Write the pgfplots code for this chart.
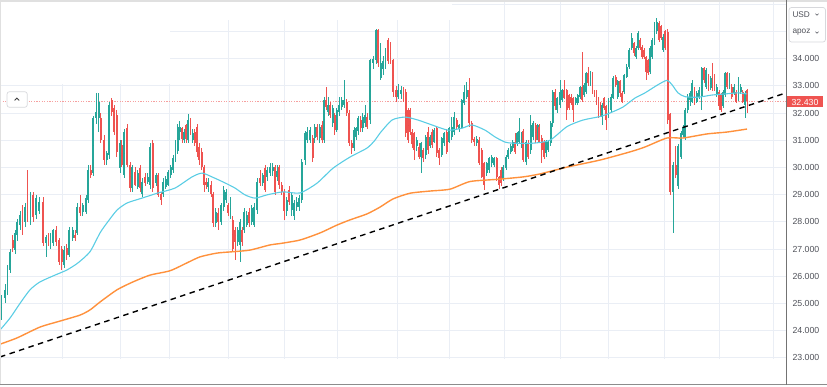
\documentclass[border=0pt]{standalone}
\usepackage{fontspec}
\setmainfont{Liberation Sans}
\usepackage{pgfplots}
\usepackage{pgfplotstable}
\pgfplotsset{compat=1.18}
\definecolor{upc}{RGB}{38,166,154}
\definecolor{dnc}{RGB}{239,83,80}
\definecolor{gridc}{RGB}{234,238,245}
\definecolor{ma1}{RGB}{90,205,228}
\definecolor{ma2}{RGB}{255,145,60}
\definecolor{lblc}{RGB}{80,82,90}
\definecolor{bordc}{RGB}{215,216,220}

\pgfplotstableread{
x o h l c
1.5 24.6 25.3 24.4 25.1
5 25.2 25.7 25.0 25.5
7.5 25.43 26.4 25.3 26.29
10 26.23 27.0 26.1 26.9
12.7 27.33 27.5 26.9 27.03
15 26.96 27.7 26.8 27.58
17.3 27.5 28.1 27.3 28.0
20 27.9 28.4 27.7 28.25
22.5 28.3 28.6 27.5 27.76
25 28.0 28.7 27.8 28.56
27.5 28.5 29.9 28.0 28.2
30.5 28.13 29.1 27.9 28.92
33 29.0 29.1 28.0 28.19
36 28.25 29.0 28.1 28.86
39 28.4 28.9 28.3 28.74
43 28.74 28.9 27.1 27.21
46 27.21 27.5 26.72 27.45
48.5 27.45 27.6 27.1 27.27
50.5 27.15 27.6 27.0 27.45
53 27.21 27.75 27.1 27.7
56 27.7 27.85 27.1 27.27
59 27.33 27.4 26.4 26.53
61.7 27.0 27.1 26.23 26.53
64.3 26.41 27.1 26.3 26.96
66.7 27.03 27.2 26.6 26.78
69.3 26.78 27.8 26.7 27.7
72.7 27.4 27.8 27.3 27.7
75 27.51 27.7 27.3 27.39
77.3 27.58 28.7 27.5 28.56
80 28.56 28.99 28.2 28.31
82.7 28.37 28.7 28.2 28.62
86 28.37 29.0 28.3 28.86
88.3 28.8 30.1 28.7 29.9
90.7 29.9 30.09 29.6 29.72
93.3 29.78 31.9 29.7 31.8
96 31.8 32.72 31.6 32.05
98.7 31.8 32.72 31.31 32.42
100.7 31.8 32.0 30.9 31.01
104 31.01 31.2 30.1 30.27
106.7 30.27 30.6 30.1 30.52
109.3 30.46 32.4 30.3 32.3
111.7 32.48 32.55 31.9 32.05
114.3 32.17 32.3 31.2 31.31
116.7 31.93 32.1 30.4 30.58
120 29.97 31.0 29.8 30.89
121.7 30.82 31.0 30.0 30.09
124.3 29.72 31.4 29.6 31.3
127.3 31.44 31.6 30.0 30.09
130 30.09 30.2 29.1 29.25
132.3 29.23 30.1 29.1 30.02
135 29.84 30.0 29.3 29.35
137.7 29.29 29.9 29.2 29.78
140.3 29.96 30.1 29.1 29.23
142.3 29.04 29.6 28.9 29.47
145 29.66 29.8 29.3 29.41
147.7 29.47 29.8 29.4 29.66
150 29.35 30.9 29.2 30.76
152.7 30.88 31.0 29.1 29.23
156 29.41 29.8 29.3 29.72
158.3 29.72 29.8 28.9 28.98
161 29.04 29.1 28.62 28.8
163.3 29.04 29.6 28.9 29.47
165.7 29.29 29.7 29.2 29.59
168.3 29.35 29.9 29.3 29.84
170.7 29.72 30.1 29.6 30.02
173.3 29.9 30.45 29.8 30.33
175.5 30.33 31.0 30.2 30.9
177.7 30.6 31.6 30.5 31.5
179.7 31.3 31.7 31.0 31.49
182 31.43 31.5 30.9 31.06
184 31.0 31.4 30.9 31.31
186 31.55 31.6 30.9 31.06
188.3 31.0 31.98 30.9 31.74
190.5 31.68 31.8 31.2 31.31
192.7 31.0 31.4 30.9 31.25
194.7 31.31 31.4 30.8 30.88
197 31.49 31.6 30.4 30.57
199.3 30.76 30.9 30.1 30.27
201.7 30.57 30.7 29.9 30.02
204 30.02 30.1 29.1 29.35
206.3 29.47 29.6 29.2 29.35
208.3 29.29 29.6 29.1 29.47
211 29.35 29.5 28.9 29.04
213.3 29.04 29.1 27.8 27.94
215.7 27.94 28.5 27.8 28.37
218.3 28.31 28.5 27.7 28.0
221 28.0 28.7 27.9 28.62
223.7 28.55 29.3 28.4 29.17
226 28.8 29.2 28.7 29.1
228.3 28.62 28.7 28.2 28.31
230.5 28.25 28.9 28.1 28.74
232.7 28.06 28.2 26.9 27.0
235 27.7 27.8 26.6 27.27
237.7 27.27 27.8 27.1 27.7
240 27.14 28.1 26.53 28.0
242 27.7 27.8 27.1 27.27
244.3 27.7 28.5 27.6 28.37
246.7 27.9 28.4 27.8 28.25
249 28.37 28.5 27.8 27.94
251.7 28.0 28.6 27.9 28.49
254.3 27.9 28.7 27.8 28.55
257.3 28.44 29.6 28.3 29.48
260 29.6 29.9 29.3 29.42
262.7 29.42 29.8 29.3 29.72
265 29.97 30.1 29.1 29.17
267.3 29.66 30.0 29.5 29.9
270 29.78 30.15 29.7 30.03
272.7 29.85 30.15 29.7 30.03
275 30.03 30.1 29.0 29.11
277.3 29.66 30.09 29.5 29.85
279.3 30.03 30.1 29.2 29.36
281.7 29.36 29.45 29.0 29.11
284.3 29.11 29.2 28.07 28.38
286.7 28.38 28.9 28.2 28.8
289.3 29.17 29.3 28.6 28.74
291.7 28.44 29.1 28.2 28.99
294 28.2 28.8 28.07 28.68
296.7 28.56 28.9 28.4 28.74
299 28.56 29.0 28.4 28.86
301.7 28.8 30.3 28.7 30.21
305 30.27 31.35 30.1 31.25
307.3 31.0 31.5 30.9 31.31
310 31.0 31.5 30.9 31.38
312.7 31.07 31.2 30.2 30.33
314.7 31.07 31.6 30.9 31.5
317.3 31.5 31.6 31.0 31.13
319.7 31.07 31.6 30.9 31.5
322 31.56 31.7 30.9 31.0
324.3 31.01 32.6 30.9 32.48
326.3 32.48 32.97 32.1 32.23
328.3 32.05 32.6 31.9 32.3
330.3 32.3 32.4 31.8 31.93
332.7 31.62 32.3 31.5 32.17
334.7 31.93 32.0 31.2 31.38
336.7 31.38 32.2 31.3 32.11
339.3 32.05 32.6 31.9 32.3
341.7 32.23 32.6 32.1 32.48
344 32.3 33.2 32.2 32.48
346.7 32.42 32.5 31.9 31.99
349.3 31.99 32.1 30.8 30.88
351.7 30.88 31.0 30.5 30.7
354 30.7 31.5 30.6 31.38
356.3 31.13 31.5 31.0 31.44
358.3 31.32 31.9 31.2 31.8
360.7 31.74 31.9 31.3 31.44
362.7 31.44 32.0 31.3 31.87
365 31.62 32.3 31.5 31.93
367.3 31.87 32.0 31.4 31.5
370 31.74 34.0 31.6 33.95
373 33.85 34.1 33.6 34.0
376 33.94 35.07 33.8 35.05
378.3 35.05 35.1 33.7 33.82
380.7 33.3 34.56 33.2 33.85
383 33.6 34.1 33.4 33.9
385.5 33.7 34.4 33.6 34.3
388 34.68 34.75 33.8 33.9
390.5 34.5 34.6 33.8 33.9
393.3 33.94 34.0 32.6 32.78
396 32.85 33.0 32.4 32.6
398.3 32.6 33.08 32.5 32.84
401 32.7 33.0 32.5 32.85
403.5 32.84 32.95 32.4 32.5
405.7 32.79 32.9 31.1 31.25
408 32.1 32.2 30.9 31.0
410 32.11 32.2 31.2 31.3
412.3 31.3 31.4 30.7 30.85
414.3 31.25 31.3 30.27 30.64
416.7 30.8 31.1 30.6 31.0
419 30.76 30.9 30.3 30.39
421 30.39 30.95 29.78 30.88
423.3 30.64 30.7 30.2 30.34
425.7 30.45 31.2 30.3 31.13
428.3 31.3 31.5 30.5 30.64
430 30.77 31.2 30.7 31.13
432.3 31.3 31.4 30.7 30.82
434.3 30.95 31.45 30.9 31.37
436.7 31.44 31.5 30.4 30.52
439 30.64 30.7 30.1 30.34
441.7 30.45 31.1 30.4 31.08
444.3 30.88 31.3 30.8 31.25
446.7 31.3 31.4 30.5 30.58
449 30.95 31.5 30.9 31.44
451.7 31.13 31.86 31.0 31.5
454 31.3 32.05 31.2 31.86
456.7 31.74 31.8 31.4 31.5
459 31.4 31.6 31.3 31.55
461.7 31.44 32.5 31.4 32.48
464 32.35 33.03 32.3 32.79
466.7 32.6 33.15 32.5 32.84
469 32.84 33.27 31.5 31.62
471.7 31.62 31.7 30.9 31.0
474.3 31.06 31.1 30.8 30.94
476.7 30.88 31.15 30.8 31.06
479 31.0 31.1 30.1 30.15
481.7 30.64 30.7 29.6 29.66
484 30.15 30.2 29.17 29.35
486.7 29.78 30.2 29.7 30.15
489 29.9 30.4 29.8 30.33
491.7 30.15 30.45 30.0 30.4
494 30.1 30.4 30.0 30.33
496.7 30.33 30.4 29.5 29.66
499 29.66 29.7 29.2 29.35
501.3 29.9 30.0 29.3 29.41
503.3 29.6 30.1 29.5 30.03
506 29.97 30.45 29.9 30.4
508.3 30.4 30.7 30.3 30.64
510.7 30.55 30.85 30.5 30.77
512.7 30.7 31.0 30.6 30.95
515 30.95 31.25 30.5 30.58
517 30.89 31.3 30.8 31.26
519.3 30.95 31.8 30.9 31.32
521.7 30.77 31.3 30.7 31.26
523.3 31.32 31.4 30.2 30.28
526 30.2 31.0 30.1 30.95
528.3 30.89 31.0 30.3 30.4
530.7 30.64 31.93 30.5 31.56
533.3 31.13 31.7 31.0 31.62
535.7 31.56 31.65 30.9 31.0
537.7 31.07 31.6 31.0 31.56
539.3 31.5 31.6 30.9 30.95
541.7 31.07 31.2 30.15 30.64
544 30.95 31.0 30.3 30.4
546 30.52 31.0 30.4 30.95
548.3 30.64 31.0 30.55 30.95
550.7 30.89 31.7 30.8 31.62
552.7 31.62 32.85 31.5 32.79
555 32.79 32.9 32.1 32.24
557.3 32.11 32.6 32.0 32.54
560 32.3 33.22 32.2 32.79
562.3 32.48 32.9 32.4 32.85
564.3 32.85 33.22 32.5 32.54
566.7 32.85 32.9 31.75 32.11
569 32.66 32.7 32.1 32.18
571 32.6 32.7 32.3 32.36
573.3 32.54 32.6 31.68 32.11
575.7 32.36 32.6 32.3 32.54
577.7 32.36 32.7 32.3 32.66
580 32.6 33.0 32.5 32.97
582.3 32.97 34.26 32.4 32.48
584.3 32.66 33.1 32.6 33.03
586.3 32.79 33.5 32.7 33.46
588.3 33.46 33.7 33.0 33.1
590.5 33.1 33.55 33.0 33.46
592.5 33.46 33.5 32.7 32.79
594.5 32.79 32.85 32.6 32.67
596.5 32.79 32.85 32.3 32.42
598.5 32.54 32.6 31.8 31.87
600.5 32.36 32.4 31.9 31.99
602.3 31.87 32.35 31.56 32.3
604.3 32.54 32.6 32.1 32.18
606.3 32.24 32.3 31.38 31.75
608.5 31.87 32.55 31.8 32.48
611 32.11 32.7 32.0 32.6
613.3 32.54 33.35 32.5 33.28
615.7 33.34 33.4 32.95 33.03
617.7 32.6 33.2 32.5 33.16
620 33.16 33.2 32.6 32.73
622.3 32.73 32.8 32.35 32.42
624.3 32.79 33.45 32.7 33.4
626.7 33.34 33.8 33.3 33.7
629 33.7 34.4 33.6 34.32
631.7 34.38 34.93 34.3 34.75
634 34.56 34.6 34.1 34.2
636 34.07 34.45 34.0 34.38
638 34.38 35.0 34.3 34.93
640 34.69 34.75 34.3 34.38
642 34.44 34.5 34.0 34.07
644 34.32 34.4 34.0 34.07
646 34.07 34.1 33.22 33.52
648 33.95 34.0 33.4 33.46
650.3 33.52 34.45 33.45 34.38
652.3 34.07 34.75 34.0 34.69
654.5 34.56 35.35 34.5 35.3
656.7 35.0 35.5 34.9 35.36
659 35.3 35.4 34.6 34.69
661 35.18 35.25 34.7 34.75
663.3 34.32 34.9 34.25 34.81
665.3 35.0 35.05 34.3 34.38
667.7 34.99 35.1 31.6 31.75
670 31.95 32.0 29.0 29.1
673.3 29.1 30.2 27.58 30.1
675.7 30.1 30.77 29.6 29.72
678.3 29.3 30.85 29.2 30.77
681 30.4 31.35 30.3 31.26
683 31.2 31.55 31.1 31.5
685.3 31.13 32.2 31.0 32.11
687.7 32.11 32.7 32.0 32.6
690 32.48 32.8 32.24 32.73
692.3 32.42 33.2 32.35 33.1
694.5 32.85 32.95 32.3 32.36
696.7 32.42 32.8 32.35 32.73
699 32.6 32.95 32.5 32.85
701.7 32.6 33.7 32.11 33.65
704 33.65 33.7 33.1 33.22
706.3 32.97 33.65 32.9 33.58
708.5 33.4 33.45 32.8 32.85
710.7 32.91 33.35 32.85 33.28
712.5 33.2 33.83 32.8 32.85
714.5 33.4 33.45 32.8 32.85
716.7 32.67 33.05 32.6 32.97
719 32.79 32.85 32.11 32.24
721 32.67 32.75 32.05 32.11
723 32.24 32.85 32.2 32.79
725.2 32.67 33.5 32.6 33.46
727.3 33.46 33.5 32.9 32.97
729.5 32.97 33.46 32.9 33.34
731.7 32.97 33.05 32.5 32.6
734 32.73 33.05 32.65 32.97
736.2 32.79 32.85 32.35 32.42
738.5 32.54 33.34 32.45 33.16
740.7 32.79 33.05 32.7 32.97
742.8 32.79 32.85 32.35 32.42
745 32.3 32.8 31.8 32.73
747.3 32.85 32.9 32.0 32.43
}\candles

\pgfplotsset{candle/.style={only marks, mark=*, mark size=0pt,
  mark options={draw=none, fill=none},
  error bars/.cd, y dir=both, y explicit, error mark=none}}

\begin{document}
\begin{tikzpicture}
\useasboundingbox (0,0) rectangle (827bp,387bp);
\begin{axis}[
  at={(0,2bp)}, anchor=south west,
  scale only axis, width=786bp, height=385bp,
  xmin=0, xmax=786, ymin=22.0, ymax=36.154,
  axis line style={draw=none},
  xtick={62,120,169,228,284,337,397,449,504,560,608,664,719,773},
  xticklabels={},
  ytick={23,24,25,26,27,28,29,30,31,32,33,34,35,36},
  yticklabels={23.000,24.000,25.000,26.000,27.000,28.000,29.000,30.000,31.000,32.000,33.000,34.000,{},{}},
  yticklabel pos=right,
  grid=major,
  major grid style={draw=gridc, line width=0.9bp},
  major tick length=0pt,
  yticklabel style={font=\fontsize{8.8}{10}\selectfont, text=lblc, anchor=west, xshift=3bp},
  clip=true,
]
% areas without grid
\fill[white] (axis cs:0,33.05) rectangle (axis cs:170,36.2);
\fill[white] (axis cs:170,35.42) rectangle (axis cs:452,36.2);
\fill[white] (axis cs:0,21.9) rectangle (axis cs:786,22.94);

% last price line
\addplot[dnc!55, line width=0.7bp, dash pattern=on 1.3bp off 1.3bp] coordinates {(0,32.43) (786,32.43)};

% wicks
\addplot[candle, error bar style={line width=0.8bp, draw=upc, solid}]
  table[x=x, y expr=(\thisrow{h}+\thisrow{l})/2, y error expr=(\thisrow{h}-\thisrow{l})/2,
        restrict expr to domain={\thisrow{c}-\thisrow{o}}{0:100}] {\candles};
\addplot[candle, error bar style={line width=0.8bp, draw=dnc, solid}]
  table[x=x, y expr=(\thisrow{h}+\thisrow{l})/2, y error expr=(\thisrow{h}-\thisrow{l})/2,
        restrict expr to domain={\thisrow{c}-\thisrow{o}}{-100:-0.00001}] {\candles};
% bodies
\addplot[candle, error bar style={line width=1.9bp, draw=upc, solid}]
  table[x=x, y expr=(\thisrow{o}+\thisrow{c})/2, y error expr=abs(\thisrow{c}-\thisrow{o})/2,
        restrict expr to domain={\thisrow{c}-\thisrow{o}}{0:100}] {\candles};
\addplot[candle, error bar style={line width=1.9bp, draw=dnc, solid}]
  table[x=x, y expr=(\thisrow{o}+\thisrow{c})/2, y error expr=abs(\thisrow{c}-\thisrow{o})/2,
        restrict expr to domain={\thisrow{c}-\thisrow{o}}{-100:-0.00001}] {\candles};

% moving averages
\addplot[ma1, line width=1.1bp, smooth, tension=0.4] coordinates {
(0,24.02)(10,24.46)(20,25.0)(30,25.5)(40,25.79)(55,26.04)(67,26.23)(78,26.49)(90,26.9)(100,27.59)(107,27.96)(117,28.43)(127,28.69)(142,28.87)(158,29.06)(175,29.24)(192,29.65)(202,29.79)(212,29.65)(225,29.43)(235,29.24)(245,28.99)(255,28.87)(267,28.99)(283,29.1)(300,29.06)(317,29.42)(333,29.97)(350,30.38)(367,30.71)(375,31.0)(380,31.26)(392,31.74)(405,31.85)(418,31.74)(432,31.56)(448,31.37)(462,31.44)(472,31.56)(485,31.37)(495,31.12)(505,30.93)(513,30.89)(533,30.89)(550,31.0)(567,31.5)(583,31.74)(600,31.87)(610,32.0)(623,32.22)(635,32.55)(645,32.74)(658,33.04)(667,33.2)(672,33.04)(678,32.74)(685,32.6)(698,32.58)(712,32.66)(725,32.7)(738,32.74)(747,32.7)
};
\addplot[ma2, line width=1.4bp, smooth, tension=0.4] coordinates {
(0,23.5)(17,23.73)(40,24.13)(60,24.35)(80,24.57)(90,24.76)(100,25.05)(117,25.5)(133,25.79)(150,26.04)(170,26.2)(187,26.49)(200,26.71)(217,26.85)(233,26.9)(250,26.96)(270,27.15)(280,27.2)(300,27.33)(320,27.59)(337,27.88)(350,28.07)(367,28.29)(380,28.54)(393,28.84)(410,29.05)(430,29.13)(450,29.2)(470,29.48)(497,29.56)(523,29.65)(540,29.76)(567,30.01)(600,30.27)(630,30.57)(645,30.75)(667,31.08)(683,31.08)(707,31.23)(727,31.3)(747,31.41)
};
% trend line
\addplot[black, line width=1.4bp, dash pattern=on 5.5bp off 4.5bp] coordinates {(0,23.03) (786,32.74)};
\end{axis}

% frame lines
\draw[black!12, line width=1.5bp] (0,386.2bp) -- (827bp,386.2bp);
\draw[black!12, line width=1.2bp] (0.6bp,2bp) -- (0.6bp,387bp);
\draw[black!45, line width=1bp] (0,2bp) -- (827bp,2bp);
\draw[black!55, line width=0.9bp] (786bp,2bp) -- (786bp,387bp);

% price label
\fill[dnc] (786.5bp,279.5bp) rectangle (823bp,290.5bp);
\node[text=white, inner sep=0pt, font=\fontsize{8.8}{10}\selectfont] at (805bp,285bp) {32.430};

% currency / unit box
\draw[bordc, fill=white, rounded corners=2.5bp, line width=0.7bp] (789bp,345bp) rectangle (825.5bp,379.5bp);
\node[anchor=west, inner sep=0pt, text=lblc, font=\fontsize{8.3}{10}\selectfont] at (792.3bp,372.3bp) {USD};
\node[anchor=west, inner sep=0pt, text=lblc, font=\fontsize{8.3}{10}\selectfont] at (792.3bp,354.5bp) {apoz};
\draw[lblc, line width=0.6bp] (815.5bp,373.3bp) -- (817bp,371.8bp) -- (818.5bp,373.3bp);
\draw[lblc, line width=0.6bp] (815.5bp,355.3bp) -- (817bp,353.8bp) -- (818.5bp,355.3bp);

% collapse button
\draw[bordc, fill=white, rounded corners=2.5bp, line width=0.7bp] (7bp,279.7bp) rectangle (27.3bp,295.3bp);
\draw[black!75, line width=0.9bp] (14.6bp,286.6bp) -- (16.9bp,288.9bp) -- (19.2bp,286.6bp);
\end{tikzpicture}
\end{document}
